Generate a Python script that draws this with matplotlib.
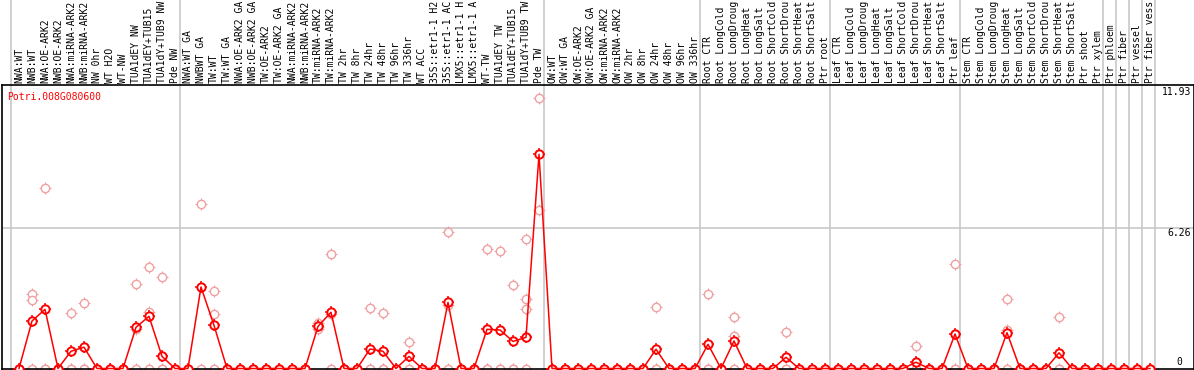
import matplotlib
matplotlib.use("Agg")
import matplotlib.pyplot as plt
import matplotlib.transforms as mtransforms
from matplotlib.path import Path
import numpy as np

labels = [
    "NWA:WT", "NWB:WT", "NWA:OE-ARK2", "NWB:OE-ARK2", "NWA:miRNA-ARK2", "NWB:miRNA-ARK2",
    "NW 0hr", "WT H2O", "WT-NW", "TUA1dEY NW", "TUA1dEY+TUB15", "TUA1dY+TUB9 NW", "Pde NW",
    "NWA:WT GA", "NWBWT GA", "TW:WT", "TW:WT GA", "NWA:OE-ARK2 GA", "NWB:OE-ARK2 GA",
    "TW:OE-ARK2", "TW:OE-ARK2 GA", "NWA:miRNA-ARK2", "NWB:miRNA-ARK2", "TW:miRNA-ARK2",
    "TW:miRNA-ARK2", "TW 2hr", "TW 8hr", "TW 24hr", "TW 48hr", "TW 96hr", "TW 336hr", "WT ACC",
    "35S::etr1-1 H2", "35S::etr1-1 AC", "LMX5::etr1-1 H", "LMX5::etr1-1 A", "WT-TW",
    "TUA1dEY TW", "TUA1dEY+TUB15", "TUA1dY+TUB9 TW", "Pde TW",
    "OW:WT", "OW:WT GA", "OW:OE-ARK2", "OW:OE-ARK2 GA", "OW:miRNA-ARK2", "OW:miRNA-ARK2",
    "OW 2hr", "OW 8hr", "OW 24hr", "OW 48hr", "OW 96hr", "OW 336hr",
    "Root CTR", "Root LongCold", "Root LongDroug", "Root LongHeat", "Root LongSalt",
    "Root ShortCold", "Root ShortDrou", "Root ShortHeat", "Root ShortSalt", "Ptr root",
    "Leaf CTR", "Leaf LongCold", "Leaf LongDroug", "Leaf LongHeat", "Leaf LongSalt",
    "Leaf ShortCold", "Leaf ShortDrou", "Leaf ShortHeat", "Leaf ShortSalt", "Ptr leaf",
    "Stem CTR", "Stem LongCold", "Stem LongDroug", "Stem LongHeat", "Stem LongSalt",
    "Stem ShortCold", "Stem ShortDrou", "Stem ShortHeat", "Stem ShortSalt", "Ptr shoot",
    "Ptr xylem", "Ptr phloem", "Ptr fiber", "Ptr vessel", "Ptr fiber vess",
]

means = [
    0, 2.12, 2.64, 0, 0.77, 0.95, 0, 0, 0, 1.84, 2.33, 0.54, 0,
    0, 3.64, 1.93, 0, 0, 0, 0, 0, 0, 0, 1.88, 2.51, 0, 0, 0.87, 0.77, 0, 0.54, 0,
    0, 2.95, 0, 0, 1.75, 1.72, 1.21, 1.39, 9.56,
    0, 0, 0, 0, 0, 0, 0, 0, 0.86, 0, 0, 0,
    1.08, 0, 1.23, 0, 0, 0, 0.50, 0, 0, 0,
    0, 0, 0, 0, 0, 0, 0.28, 0, 0, 1.54,
    0, 0, 0, 1.60, 0, 0, 0, 0.70, 0, 0,
    0, 0, 0, 0, 0,
]

replicates = [
    [0, 0, 0], [3.31, 3.06, 0], [8.04, 0, 0], [0, 0, 0], [2.46, 0, 0], [2.91, 0, 0],
    [0, 0, 0], [0, 0, 0], [0, 0, 0], [3.76, 1.76, 0], [4.52, 2.54, 0], [4.07, 0, 0], [0, 0, 0],
    [0, 0, 0], [7.33, 0], [3.45, 2.42, 0], [0, 0, 0], [0, 0, 0], [0, 0, 0], [0, 0, 0],
    [0, 0, 0], [0, 0, 0], [0, 0, 0], [2.05, 1.85, 1.75], [5.10, 2.43, 0], [0, 0, 0],
    [0, 0, 0], [2.69, 0, 0], [2.46, 0, 0], [0, 0, 0], [1.17, 0], [0, 0, 0],
    [0, 0, 0], [6.08, 2.83, 0], [0, 0, 0], [0, 0, 0], [5.32, 0, 0], [5.23, 0, 0],
    [3.71, 0, 0], [5.77, 3.09, 2.64, 0], [12.06, 7.06],
    [0, 0, 0], [0, 0, 0], [0, 0, 0], [0, 0, 0], [0, 0, 0], [0, 0, 0], [0, 0, 0], [0, 0, 0],
    [2.73, 0, 0], [0, 0, 0], [0, 0, 0], [0, 0, 0],
    [3.31, 0, 0], [0, 0, 0], [2.29, 1.44, 0], [0, 0, 0], [0, 0, 0], [0, 0, 0],
    [1.62, 0, 0], [0, 0, 0], [0, 0, 0], [0, 0, 0],
    [0, 0, 0], [0, 0, 0], [0, 0, 0], [0, 0, 0], [0, 0, 0], [0, 0, 0], [0.99, 0, 0],
    [0, 0, 0], [0, 0, 0], [4.65, 0, 0],
    [0, 0, 0], [0, 0, 0], [0, 0, 0], [3.10, 1.70, 0], [0, 0, 0], [0, 0, 0], [0, 0, 0],
    [2.30, 0, 0], [0, 0, 0], [0, 0, 0],
    [0, 0, 0], [0, 0, 0], [0, 0, 0], [0, 0, 0], [0, 0, 0],
]

group_ends = [-1, 12, 40, 52, 62, 72, 83, 84, 85, 86, 87]
gene = "Potri.008G080600"
ytick_vals = [11.93, 6.26, 0]
ytick_texts = ["11.93", "6.26", "0"]

W, H = 1194, 370
RED = "#ff0000"
PALE = "#f0a0a0"
GREY = "#c8c8c8"
MONO = "DejaVu Sans Mono"
FS = 7.0

fig = plt.figure(figsize=(W / 100, H / 100), dpi=100)
ax = fig.add_axes([1.5 / W, 1 / H, 1192 / W, 284 / H])
ax.set_xlim(-17.5 / 13, 1174.5 / 13)
ax.set_ylim(-0.5 / 22.4, 283.5 / 22.4)
ax.set_xticks([])
ax.set_yticks([])
for s in ax.spines.values():
    s.set_color("black")
    s.set_linewidth(1.2)

x = np.arange(len(labels))

# separators and grid
for g in group_ends:
    ax.axvline(g + 0.41, ymin=0, ymax=369 / 284, color=GREY, lw=1.2, clip_on=False, zorder=1)
ax.axhline(6.26, color=GREY, lw=1.2, zorder=1)

# small tick marks around each circle: plotted as a '+' marker, then a circle on top
def draw_markers(xs, ys, color, lw, z):
    ax.plot(xs, ys, ls="none", marker="+", ms=8.6, mec=color, mew=lw * 0.8,
            clip_on=False, zorder=z)
    ax.plot(xs, ys, ls="none", marker="o", ms=6.0, mfc="white", mec=color, mew=lw,
            clip_on=False, zorder=z + 0.1)

# replicates
rx, ry = [], []
for i, vals in enumerate(replicates):
    for v in vals:
        rx.append(x[i])
        ry.append(v)
draw_markers(rx, ry, PALE, 1.0, 2)

# means
draw_markers(x, means, RED, 1.4, 3)
ax.plot(x, means, color=RED, lw=1.1, clip_on=False, zorder=3.5)

# header labels
trans = mtransforms.blended_transform_factory(ax.transData, ax.transAxes)
for i, lab in enumerate(labels):
    ax.text(x[i], 1 + 2 / 284, lab, transform=trans, rotation=90, ha="center", va="bottom",
            fontsize=FS, family=MONO, color="black", clip_on=False)

# gene name
ax.text((7 - 1.5) / 1192, (369 - 97) / 284, gene, transform=ax.transAxes, color=RED,
        fontsize=FS, family=MONO, ha="left", va="center")

# y tick labels on right
tick_pos = [(1191, 92, "right"), (1191, 233, "right"), (1179, 362, "center")]
for v, txt, (xp, yp, ha) in zip(ytick_vals, ytick_texts, tick_pos):
    fig.text(xp / W, 1 - yp / H, txt, fontsize=FS, family=MONO, ha=ha, va="center")

fig.savefig("out.png", dpi=100)
